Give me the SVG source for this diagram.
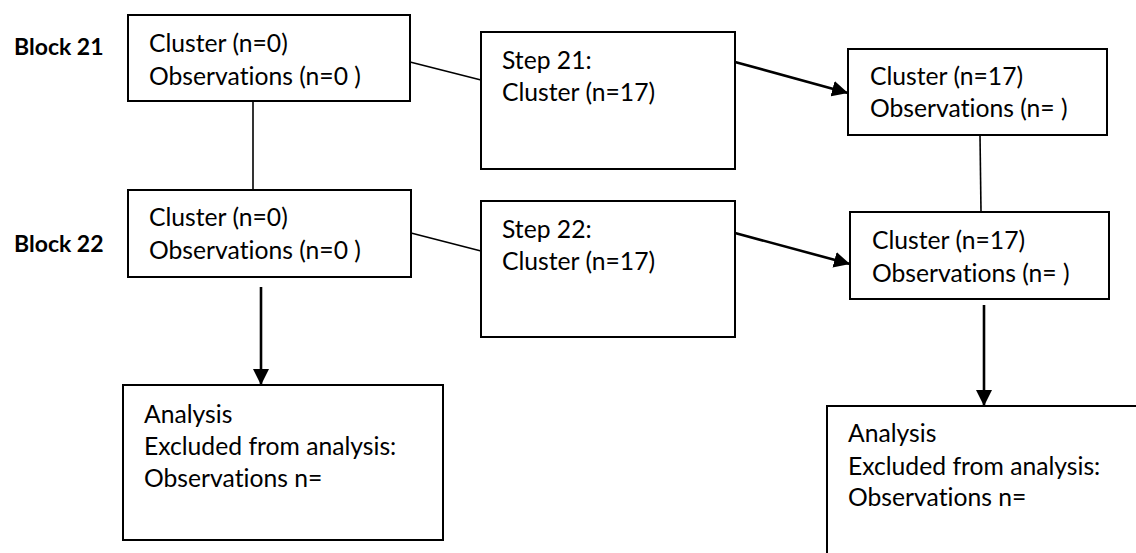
<svg xmlns="http://www.w3.org/2000/svg" width="1136" height="553" viewBox="0 0 1136 553">
  <style>
    .box { fill: #ffffff; stroke: #000000; stroke-width: 2; }
    .t { font-family: Lato, "Liberation Sans", sans-serif; font-size: 24.7px; fill: #000000; font-variant-ligatures: none; }
    .lbl { font-family: Lato, "Liberation Sans", sans-serif; font-size: 23px; font-weight: bold; fill: #000000; }
    .link { fill: none; stroke: #000000; stroke-width: 1.6; }
    .arrow { fill: none; stroke: #000000; stroke-width: 2.6; marker-end: url(#head); }
  </style>
  <defs>
    <marker id="head" markerUnits="userSpaceOnUse" markerWidth="18" markerHeight="16" refX="16" refY="8" orient="auto">
      <path d="M0,0 L16,8 L0,16 Z" fill="#000000"/>
    </marker>
  </defs>

  <rect width="1136" height="553" fill="#ffffff"/>

  <!-- row labels -->
  <text class="lbl" x="14" y="55">Block 21</text>
  <text class="lbl" x="14" y="252">Block 22</text>

  <!-- connectors -->
  <g id="connectors">
    <line class="link" x1="410" y1="62" x2="481" y2="80"/>
    <line class="link" x1="253" y1="101" x2="253" y2="190"/>
    <line class="link" x1="411" y1="233" x2="481" y2="251"/>
    <line class="link" x1="980" y1="135" x2="981" y2="212"/>
    <line class="arrow" x1="735" y1="62" x2="848" y2="93"/>
    <line class="arrow" x1="735" y1="233" x2="850" y2="264"/>
    <line class="arrow" x1="261" y1="287" x2="261" y2="385"/>
    <line class="arrow" x1="984" y1="305" x2="984" y2="406"/>
  </g>

  <g id="block21">
    <rect class="box" x="128" y="15" width="282" height="86"/>
    <text class="t" x="149" y="52">Cluster (n=0)</text>
    <text class="t" x="149" y="85">Observations (n=0 )</text>
  </g>

  <g id="step21">
    <rect class="box" x="481" y="32" width="254" height="137"/>
    <text class="t" x="502" y="69">Step 21:</text>
    <text class="t" x="502" y="101">Cluster (n=17)</text>
  </g>

  <g id="result21">
    <rect class="box" x="848" y="49" width="259" height="86"/>
    <text class="t" x="870" y="85">Cluster (n=17)</text>
    <text class="t" x="870" y="117">Observations (n= )</text>
  </g>

  <g id="block22">
    <rect class="box" x="128" y="190" width="283" height="87"/>
    <text class="t" x="149" y="226">Cluster (n=0)</text>
    <text class="t" x="149" y="259">Observations (n=0 )</text>
  </g>

  <g id="step22">
    <rect class="box" x="481" y="201" width="254" height="136"/>
    <text class="t" x="502" y="238">Step 22:</text>
    <text class="t" x="502" y="270">Cluster (n=17)</text>
  </g>

  <g id="result22">
    <rect class="box" x="850" y="212" width="259" height="87"/>
    <text class="t" x="872" y="249">Cluster (n=17)</text>
    <text class="t" x="872" y="282">Observations (n= )</text>
  </g>

  <g id="analysis-left">
    <rect class="box" x="123" y="385" width="320" height="155"/>
    <text class="t" x="144" y="423">Analysis</text>
    <text class="t" x="144" y="455">Excluded from analysis:</text>
    <text class="t" x="144" y="487">Observations n=</text>
  </g>

  <g id="analysis-right">
    <rect class="box" x="827" y="406" width="330" height="160"/>
    <text class="t" x="848" y="442">Analysis</text>
    <text class="t" x="848" y="475">Excluded from analysis:</text>
    <text class="t" x="848" y="506">Observations n=</text>
  </g>
</svg>
